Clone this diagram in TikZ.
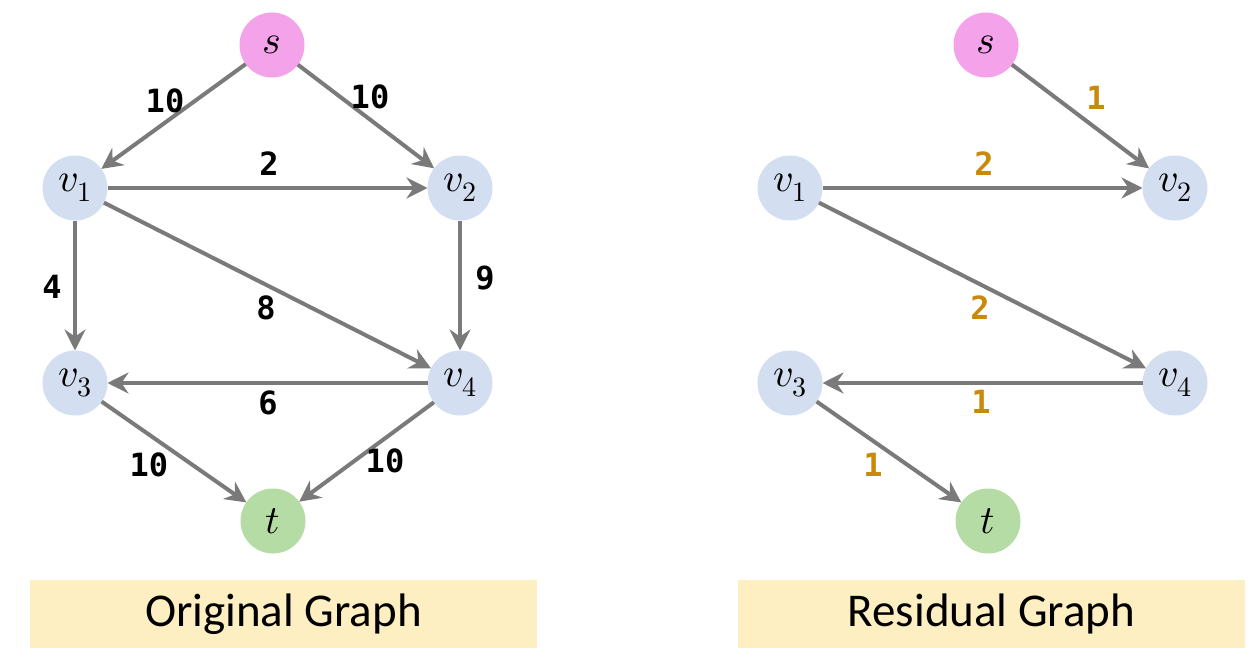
\documentclass[tikz,border=0pt]{standalone}
\usepackage{fontspec}
\usepackage{unicode-math}
\setmathfont{Latin Modern Math}
\usetikzlibrary{arrows.meta}
\newfontfamily\lblfont{DejaVu Sans Mono}
\newfontfamily\titlefont{Carlito}
\definecolor{snode}{HTML}{F4A2E9}
\definecolor{vnode}{HTML}{D3DEF1}
\definecolor{tnode}{HTML}{B5DCA5}
\definecolor{edgegray}{HTML}{7A7A7A}
\definecolor{resorange}{HTML}{C98A0A}
\definecolor{boxyellow}{HTML}{FDEFC1}
\begin{document}
\begin{tikzpicture}[x=1pt,y=-1pt,
  vtx/.style={circle,minimum size=65pt,inner sep=0pt,outer sep=0pt,font=\fontsize{40}{46}\selectfont},
  edge/.style={draw=edgegray,line width=4pt,-{Stealth[length=21pt,width=21pt,inset=7pt]}},
  lbl/.style={font=\lblfont\bfseries\fontsize{32}{38}\selectfont,text=black,inner sep=0pt},
  rlbl/.style={lbl,text=resorange},
  titlebox/.style={fill=boxyellow,minimum width=507pt,minimum height=68pt,inner sep=0pt,font=\titlefont\fontsize{47}{54}\selectfont}
]
\useasboundingbox (0,0) rectangle (1255,666);
% Original graph
\node[vtx,fill=snode] (s) at (272,45) {$s$};
\node[vtx,fill=vnode] (v1) at (75,188) {$v_1$};
\node[vtx,fill=vnode] (v2) at (460,188) {$v_2$};
\node[vtx,fill=vnode] (v3) at (75,383) {$v_3$};
\node[vtx,fill=vnode] (v4) at (460,383) {$v_4$};
\node[vtx,fill=tnode] (t) at (273,521) {$t$};
\draw[edge] (s) -- (v1);
\draw[edge] (s) -- (v2);
\draw[edge] (v1) -- (v2);
\draw[edge] (v1) -- (v3);
\draw[edge] (v1) -- (v4);
\draw[edge] (v2) -- (v4);
\draw[edge] (v4) -- (v3);
\draw[edge] (v3) -- (t);
\draw[edge] (v4) -- (t);
\node[lbl] (a1) at (165,101) {10};
\node[lbl] (a2) at (370,97) {10};
\node[lbl] (a3) at (269,164) {2};
\node[lbl] (a4) at (52,287) {4};
\node[lbl] (a5) at (266,308) {8};
\node[lbl] (a6) at (485,278) {9};
\node[lbl] (a7) at (268,403) {6};
\node[lbl] (a8) at (149,465) {10};
\node[lbl] (a9) at (385,461) {10};
\node[titlebox] (T1) at (283.5,614) {Original Graph};
% Residual graph
\node[vtx,fill=snode] (rs) at (986,45) {$s$};
\node[vtx,fill=vnode] (rv1) at (790,188) {$v_1$};
\node[vtx,fill=vnode] (rv2) at (1175,188) {$v_2$};
\node[vtx,fill=vnode] (rv3) at (790,383) {$v_3$};
\node[vtx,fill=vnode] (rv4) at (1175,383) {$v_4$};
\node[vtx,fill=tnode] (rt) at (988,521) {$t$};
\draw[edge] (rs) -- (rv2);
\draw[edge] (rv1) -- (rv2);
\draw[edge] (rv1) -- (rv4);
\draw[edge] (rv4) -- (rv3);
\draw[edge] (rv3) -- (rt);
\node[rlbl] (b1) at (1096,98) {1};
\node[rlbl] (b2) at (984,164) {2};
\node[rlbl] (b3) at (980,308) {2};
\node[rlbl] (b4) at (981,402) {1};
\node[rlbl] (b5) at (873,465) {1};
\node[titlebox] (T2) at (991.5,614) {Residual Graph};
\end{tikzpicture}
\end{document}
